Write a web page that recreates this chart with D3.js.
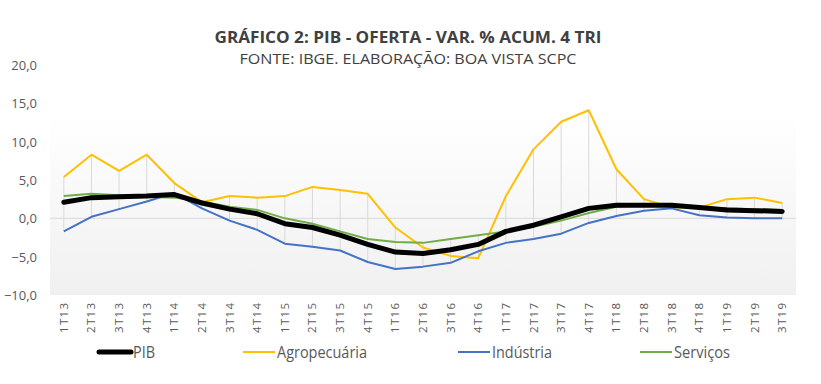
<!DOCTYPE html>
<html>
<head>
<meta charset="utf-8">
<script src="https://cdn.jsdelivr.net/npm/d3@7"></script>
<style>
  body { margin: 0; background: #fff; }
  text { font-family: "Open Sans", "Liberation Sans", sans-serif; }
</style>
</head>
<body>
<svg id="chart" width="821" height="384"></svg>
<script>
// quarters on the x axis
var categories = ["1T13","2T13","3T13","4T13","1T14","2T14","3T14","4T14","1T15","2T15","3T15","4T15",
  "1T16","2T16","3T16","4T16","1T17","2T17","3T17","4T17","1T18","2T18","3T18","4T18","1T19","2T19","3T19"];

var pib =      [2.1, 2.7, 2.8, 2.9, 3.1, 2.0, 1.2, 0.6, -0.7, -1.2, -2.2, -3.4, -4.4, -4.6, -4.1, -3.4, -1.7, -0.9, 0.2, 1.3, 1.7, 1.7, 1.7, 1.4, 1.1, 1.0, 0.9];
var agro =     [5.4, 8.3, 6.2, 8.3, 4.6, 2.1, 2.9, 2.7, 2.9, 4.1, 3.7, 3.2, -1.2, -3.8, -4.9, -5.2, 2.9, 9.0, 12.6, 14.1, 6.4, 2.5, 1.4, 1.4, 2.5, 2.7, 2.0];
var industria = [-1.7, 0.2, 1.2, 2.2, 3.3, 1.3, -0.3, -1.5, -3.3, -3.7, -4.2, -5.7, -6.6, -6.3, -5.8, -4.3, -3.2, -2.7, -2.0, -0.6, 0.3, 1.0, 1.3, 0.4, 0.1, 0.0, 0.0];
var servicos = [2.9, 3.2, 3.0, 2.8, 2.7, 2.2, 1.5, 1.1, 0.0, -0.7, -1.7, -2.7, -3.1, -3.2, -2.7, -2.2, -1.7, -1.1, -0.3, 0.7, 1.5, 1.7, 1.6, 1.4, 1.3, 1.2, 1.1];

var yTicks = [-10, -5, 0, 5, 10, 15, 20];

var series = [
  { name: "PIB", values: pib, color: "#000000", width: 5 },
  { name: "Agropecuária", values: agro, color: "#FFC000", width: 2 },
  { name: "Indústria", values: industria, color: "#4472C4", width: 2 },
  { name: "Serviços", values: servicos, color: "#70AD47", width: 2 }
];

var svg = d3.select("#chart");
var plotLeft = 50, plotRight = 796, plotTop = 65, plotBottom = 295;

var x = d3.scaleBand().domain(categories).range([plotLeft, plotRight]);
var y = d3.scaleLinear().domain([-10, 20]).range([plotBottom, plotTop]);

// plot area background (soft gradient)
var grad = svg.append("defs").append("linearGradient")
  .attr("id", "bg").attr("x1", 0).attr("y1", 0).attr("x2", 0).attr("y2", 1);
grad.append("stop").attr("offset", "0%").attr("stop-color", "#ffffff");
grad.append("stop").attr("offset", "100%").attr("stop-color", "#f0f0f0");
svg.append("rect")
  .attr("x", plotLeft).attr("y", y(15) + 10)
  .attr("width", plotRight - plotLeft).attr("height", plotBottom - y(15) - 10)
  .attr("fill", "url(#bg)");

// titles
svg.append("text").attr("x", 408).attr("y", 43).attr("text-anchor", "middle")
  .attr("font-size", 16).attr("font-weight", "bold").attr("fill", "#404040")
  .attr("textLength", 387).attr("lengthAdjust", "spacingAndGlyphs")
  .text("GRÁFICO 2: PIB - OFERTA - VAR. % ACUM. 4 TRI");
svg.append("text").attr("x", 408).attr("y", 64).attr("text-anchor", "middle")
  .attr("font-size", 15).attr("fill", "#404040")
  .attr("textLength", 337).attr("lengthAdjust", "spacingAndGlyphs")
  .text("FONTE: IBGE. ELABORAÇÃO: BOA VISTA SCPC");

// y axis labels
svg.append("g").selectAll("text").data(yTicks).enter().append("text")
  .attr("x", 37).attr("y", function(d) { return y(d) + 5; })
  .attr("text-anchor", "end").attr("font-size", 13).attr("fill", "#595959")
  .text(function(d) { return d3.format(".1f")(d).replace(".", ","); });

// zero line
svg.append("line")
  .attr("x1", plotLeft).attr("x2", plotRight).attr("y1", y(0)).attr("y2", y(0))
  .attr("stroke", "#d9d9d9").attr("stroke-width", 1);

// high-low lines
svg.append("g").selectAll("line").data(categories).enter().append("line")
  .attr("x1", function(d) { return x(d) + x.bandwidth() / 2; })
  .attr("x2", function(d) { return x(d) + x.bandwidth() / 2; })
  .attr("y1", function(d, i) { return y(d3.max(series, function(s) { return s.values[i]; })); })
  .attr("y2", function(d, i) { return y(d3.min(series, function(s) { return s.values[i]; })); })
  .attr("stroke", "#d9d9d9").attr("stroke-width", 1);

// x labels (rotated)
svg.append("g").selectAll("text").data(categories).enter().append("text")
  .attr("transform", function(d) { return "translate(" + (x(d) + x.bandwidth() / 2 + 4) + ",303) rotate(-90)"; })
  .attr("text-anchor", "end").attr("font-size", 11.5).attr("fill", "#595959")
  .attr("textLength", 30).attr("lengthAdjust", "spacing")
  .text(function(d) { return d; });

// lines
var line = d3.line()
  .x(function(d, i) { return x(categories[i]) + x.bandwidth() / 2; })
  .y(function(d) { return y(d); });

var drawOrder = [series[1], series[2], series[3], series[0]];
svg.append("g").selectAll("path").data(drawOrder).enter().append("path")
  .attr("d", function(s) { return line(s.values); })
  .attr("fill", "none")
  .attr("stroke", function(s) { return s.color; })
  .attr("stroke-width", function(s) { return s.width; })
  .attr("stroke-linejoin", "round")
  .attr("stroke-linecap", function(s) { return s.width > 3 ? "round" : "butt"; });

// legend
var legendX = [99, 243, 458, 640];
var legendW = [22, 90, 60, 56];
var lg = svg.append("g").selectAll("g").data(series).enter().append("g")
  .attr("transform", function(d, i) { return "translate(" + legendX[i] + ",352)"; });
lg.append("line").attr("x1", 0).attr("x2", 32).attr("y1", 0).attr("y2", 0)
  .attr("stroke", function(d) { return d.color; })
  .attr("stroke-width", function(d) { return d.width > 3 ? 5 : 2; })
  .attr("stroke-linecap", function(d) { return d.width > 3 ? "round" : "butt"; });
lg.append("text").attr("x", 34).attr("y", 6).attr("font-size", 16).attr("fill", "#595959")
  .attr("textLength", function(d, i) { return legendW[i]; })
  .attr("lengthAdjust", "spacingAndGlyphs")
  .text(function(d) { return d.name; });
</script>
</body>
</html>
